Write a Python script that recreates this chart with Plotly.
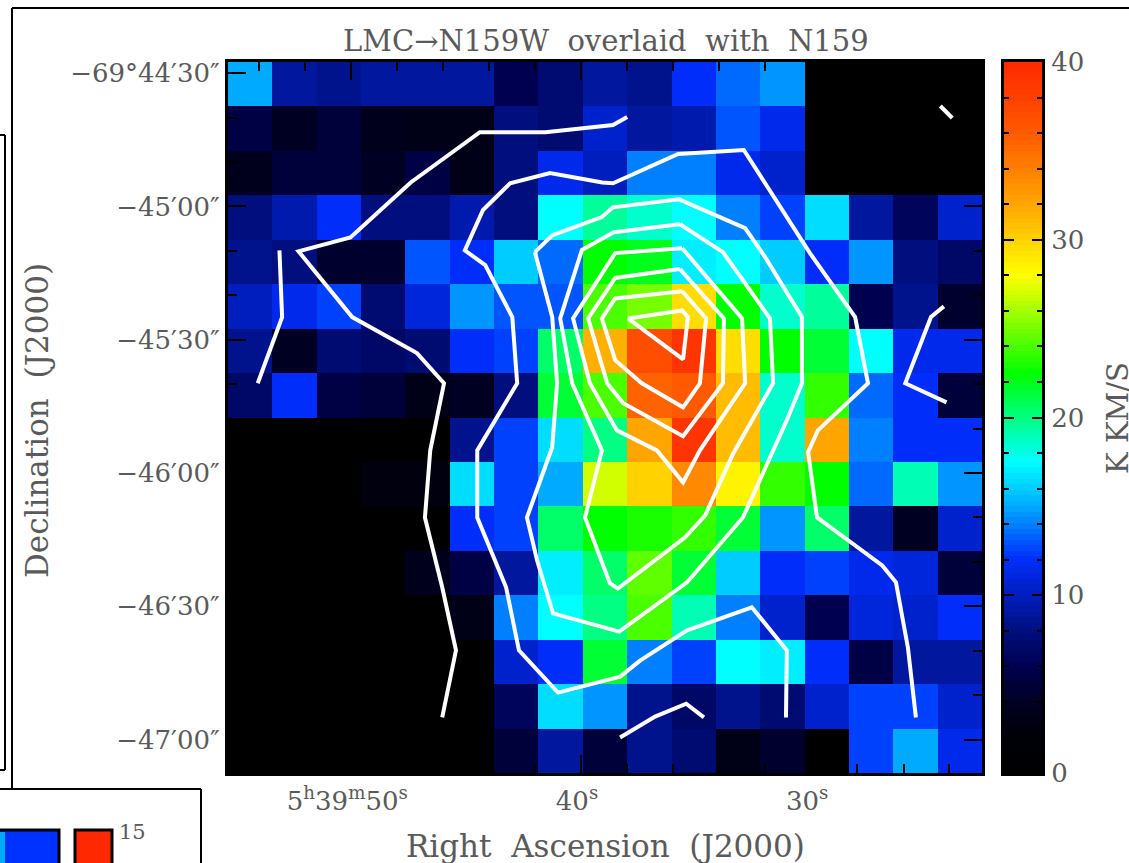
import plotly.graph_objects as go

# Integrated intensity map (K km/s), row 0 at the top, 17 columns x 16 rows
row00 = [15, 9, 8.5, 9, 9, 9, 6, 7.5, 9, 8.5, 12, 13.5, 14.5, 0, 0, 0, 0]
row01 = [5.5, 4, 5, 3.5, 3, 3, 8, 7.5, 10.5, 9, 9.5, 13, 11.5, 0, 0, 0, 0]
row02 = [3.5, 5, 5, 4, 5.5, 3, 8, 11.5, 10, 14, 14, 11.5, 10.5, 0, 0, 0, 0]
row03 = [8, 9.5, 12, 8, 8, 9.5, 8, 17.5, 19.5, 18.5, 17.5, 14, 12.5, 16.5, 9, 6.5, 10.5]
row04 = [8.5, 8, 4.5, 4.5, 13, 12, 16, 13.5, 22.5, 22, 17, 17.5, 16, 12, 14.5, 8, 7]
row05 = [10, 11.5, 12.5, 7.5, 11, 14.5, 13, 13, 24, 25, 29.5, 22.5, 18.5, 19.5, 6, 8.5, 4.5]
row06 = [8.5, 4, 7.5, 7, 7.5, 12, 12.5, 20.5, 31.5, 37, 39, 29.5, 22.5, 21.5, 17.5, 11.5, 11.5]
row07 = [7, 12, 5.5, 5, 3, 4, 8, 21.5, 24, 35.5, 36, 31, 18.5, 23.5, 13.5, 12, 5]
row08 = [0, 0, 0, 0, 0, 8.5, 12.5, 16.5, 20, 32, 39, 31, 18.5, 32, 14, 12, 12]
row09 = [0, 0, 0, 2.5, 2.5, 16.5, 12.5, 15, 27, 30, 33.5, 28.5, 23.5, 22.5, 13.5, 19, 14.5]
row10 = [0, 0, 0, 0, 0, 12, 12.5, 20.5, 22.5, 23, 23.5, 21.5, 14.5, 20.5, 9, 4, 10.5]
row11 = [0, 0, 0, 0, 3.5, 5.5, 9, 17, 20.5, 24.5, 21.5, 16, 12, 12.5, 11.5, 11, 5]
row12 = [0, 0, 0, 0, 0, 3, 14, 17.5, 20, 24, 19, 14, 10.5, 6, 11, 10.5, 12]
row13 = [0, 0, 0, 0, 0, 0, 10.5, 12, 21.5, 14, 12.5, 17.5, 17, 12, 5.5, 9, 9]
row14 = [0, 0, 0, 0, 0, 0, 6.5, 16.5, 14.5, 8.5, 7, 8.5, 7.5, 10.5, 12.5, 12.5, 10.5]
row15 = [0, 0, 0, 0, 0, 0, 5, 9, 5, 8.5, 7.5, 3, 4.5, 0, 12.5, 15, 11.5]
intensity = [row00, row01, row02, row03, row04, row05, row06, row07,
             row08, row09, row10, row11, row12, row13, row14, row15]
column_centres = [i + 0.5 for i in range(17)]
row_centres = [i + 0.5 for i in range(16)]

# N159 contours, as (map column, map row) in cell units
c01 = [(1.16, 4.24), (1.22, 5.74), (0.67, 7.23)]
c02 = [(9.0, 1.24), (8.68, 1.42), (7.16, 1.58), (5.68, 1.58), (4.12, 2.71), (2.76, 3.95),
       (1.59, 4.26), (2.80, 5.74), (4.26, 6.55), (4.87, 7.23), (4.56, 8.74), (4.44, 10.25),
       (4.83, 11.82), (5.14, 13.24), (4.83, 14.75)]
c03 = [(12.58, 14.75), (12.60, 13.24), (11.81, 12.27), (10.35, 12.79), (9.29, 13.47), (8.84, 13.83),
       (7.44, 14.19), (6.56, 13.24), (6.27, 11.82), (5.62, 10.25), (5.62, 8.74), (6.52, 7.23),
       (6.41, 5.74), (5.80, 4.57), (5.34, 4.24), (5.75, 3.33), (6.36, 2.73), (7.26, 2.50),
       (8.44, 2.71), (8.68, 2.73), (10.15, 2.07), (11.63, 1.98), (13.12, 4.30), (14.14, 5.74),
       (14.43, 7.23), (13.30, 8.29), (13.08, 8.78), (13.28, 10.25), (14.75, 11.33), (15.06, 11.71),
       (15.33, 13.18), (15.51, 14.75)]
c04 = [(6.92, 4.28), (7.31, 3.90), (8.43, 3.49), (8.68, 3.27), (10.17, 3.09), (11.66, 3.74),
       (12.11, 4.39), (12.94, 5.74), (12.94, 7.23), (12.60, 8.06), (11.61, 10.25), (10.35, 11.71),
       (8.82, 12.82), (7.33, 12.41), (6.97, 11.22), (6.74, 10.25), (7.31, 8.67), (7.42, 7.23),
       (7.31, 5.74), (6.92, 4.28)]
c05 = [(10.19, 3.65), (8.70, 3.83), (7.98, 4.23), (7.49, 5.77), (7.76, 7.23), (8.43, 8.74),
       (8.05, 10.25), (8.61, 11.73), (8.79, 11.85), (10.30, 10.70), (10.76, 10.20), (11.39, 8.81),
       (12.29, 7.23), (12.22, 5.77), (11.16, 4.28), (10.19, 3.65)]
c06 = [(10.24, 4.19), (8.73, 4.30), (7.78, 5.77), (8.16, 7.23), (8.77, 8.29), (9.67, 8.74),
       (10.26, 9.46), (10.64, 8.74), (11.66, 7.23), (11.59, 5.77), (10.24, 4.19)]
c07 = [(10.19, 4.66), (8.73, 4.86), (8.12, 5.77), (8.55, 7.23), (8.91, 7.68), (10.26, 8.42),
       (11.16, 7.23), (11.18, 5.77), (10.19, 4.66)]
c08 = [(10.24, 5.16), (8.73, 5.32), (8.43, 5.77), (8.73, 6.71), (9.33, 7.23), (10.26, 7.77),
       (10.64, 7.23), (10.78, 5.77), (10.24, 5.16)]
c09 = [(9.02, 5.77), (10.24, 5.59), (10.37, 5.74), (10.26, 6.69), (9.02, 5.77)]
c10 = [(16.14, 5.50), (15.85, 5.74), (15.27, 7.23), (16.20, 7.66)]
c11 = [(16.06, 0.99), (16.33, 1.26)]
c12 = [(8.84, 15.20), (9.63, 14.73), (10.33, 14.44), (10.73, 14.75)]
contours = [c01, c02, c03, c04, c05, c06, c07, c08, c09, c10, c11, c12]

title_text = "LMC\u2192N159W\u00a0 overlaid\u00a0 with\u00a0 N159"
x_title = "Right\u00a0 Ascension\u00a0 (J2000)"
y_title = "Declination\u00a0 (J2000)"
cbar_title = "K KM/S"
ra_major = [2.78, 7.96, 13.15]
ra_major_labels = ["5<sup>h</sup>39<sup>m</sup>50<sup>s</sup>", "40<sup>s</sup>", "30<sup>s</sup>"]
ra_minor = [0.70, 1.74, 3.82, 4.85, 5.89, 6.93, 9.00, 10.04, 11.07, 12.11, 14.19, 15.23, 16.26]
dec_major = [0.25, 3.25, 6.25, 9.25, 12.25, 15.25]
dec_major_labels = ["\u221269\u00b044\u203230\u2033", "\u221245\u203200\u2033", "\u221245\u203230\u2033",
                    "\u221246\u203200\u2033", "\u221246\u203230\u2033", "\u221247\u203200\u2033"]
dec_minor = [1.25, 2.25, 4.25, 5.25, 7.25, 8.25, 10.25, 11.25, 13.25, 14.25]
cbar_major = [0, 10, 20, 30, 40]
cbar_minor = [2, 4, 6, 8, 12, 14, 16, 18, 22, 24, 26, 28, 32, 34, 36, 38]
cbar_levels = [0.15625 + 0.3125 * i for i in range(128)]

colorstops = [(0, "rgb(0,0,0)"), (2, "rgb(0,0,8)"), (4, "rgb(0,0,35)"), (6, "rgb(0,0,80)"),
              (8, "rgb(0,15,125)"), (10, "rgb(0,30,190)"), (12, "rgb(0,45,250)"), (13, "rgb(0,85,255)"),
              (15, "rgb(0,170,255)"), (17.5, "rgb(0,255,255)"), (20, "rgb(0,255,130)"), (22.5, "rgb(0,255,0)"),
              (23.5, "rgb(50,255,0)"), (28, "rgb(255,255,0)"), (32, "rgb(255,165,0)"), (36, "rgb(255,90,0)"),
              (40, "rgb(255,40,0)")]
scale = [[v / 40, c] for v, c in colorstops]

W, H = 1129, 863
L, R, T, B = 228, 982, 62, 773
CL, CR = 1004, 1042
INK = "#5a5a5a"
TICK = "#000000"
FONT = "DejaVu Serif"

fig = go.Figure()
fig.add_trace(go.Heatmap(x=column_centres, y=row_centres, z=intensity, zmin=0, zmax=40, zsmooth=False,
                         colorscale=scale, showscale=False, hoverinfo="skip"))
for c in contours:
    fig.add_trace(go.Scatter(x=[p[0] for p in c], y=[p[1] for p in c], mode="lines",
                             line=dict(color="white", width=4), showlegend=False, hoverinfo="skip"))
fig.add_trace(go.Heatmap(x=[0], y=cbar_levels, z=[[v] for v in cbar_levels], zmin=0, zmax=40, zsmooth=False,
                         colorscale=scale, showscale=False, hoverinfo="skip", xaxis="x2", yaxis="y2"))

tickfont = dict(family=FONT, size=26, color=INK)
axis_common = dict(showgrid=False, zeroline=False, showline=True, linecolor="#000", linewidth=3, automargin=False,
                   mirror="ticks", ticks="inside", tickwidth=1.5, tickcolor=TICK, tickfont=tickfont)
minor = dict(ticks="inside", ticklen=9, tickwidth=1.5, tickcolor=TICK, tickmode="array")

layout_axes = dict(
    xaxis=dict(range=[0, 17], domain=[L / W, R / W], tickmode="array", tickvals=ra_major, ticktext=ra_major_labels,
               ticklen=18, ticklabelshift=-4, ticklabelstandoff=3, minor=dict(tickvals=ra_minor, **minor), **axis_common),
    yaxis=dict(range=[16, 0], domain=[1 - B / H, 1 - T / H], tickmode="array", tickvals=dec_major, ticktext=dec_major_labels,
               ticklen=18, minor=dict(tickvals=dec_minor, **minor), **axis_common),
    xaxis2=dict(range=[-0.5, 0.5], domain=[CL / W, CR / W], anchor="y2", showticklabels=False, automargin=False,
                showline=True, linecolor="#000", linewidth=3, mirror=True, ticks="", showgrid=False, zeroline=False),
    yaxis2=dict(range=[0, 40], domain=[1 - B / H, 1 - T / H], anchor="x2", side="right", tickmode="array",
                tickvals=cbar_major, ticklen=10, ticklabelstandoff=1,
                minor=dict(tickvals=cbar_minor, ticks="inside", ticklen=5, tickwidth=1.5, tickcolor=TICK, tickmode="array"),
                **axis_common),
)

def px(x): return x / W
def py(y): return 1 - y / H

shapes = []
def frame(x0, y0, x1, y1):
    shapes.append(dict(type="line", xref="paper", yref="paper", x0=px(x0), y0=py(y0), x1=px(x1), y1=py(y1),
                       line=dict(color="#000", width=2)))
# surrounding page panels
frame(12, 8, 1129, 8); frame(12, 8, 12, 788)
frame(0, 135, 5, 135); frame(5, 135, 5, 770); frame(0, 770, 5, 770)
frame(0, 789, 201, 789); frame(201, 789, 201, 863)
# pieces of the neighbouring colour bars
for x0, x1, col in [(-4, 59, "rgb(0,50,255)"), (75, 112, "rgb(255,40,0)")]:
    shapes.append(dict(type="rect", xref="paper", yref="paper", x0=px(x0), x1=px(x1), y0=py(868), y1=py(830),
                       fillcolor=col, line=dict(color="#000", width=3)))
shapes.append(dict(type="rect", xref="paper", yref="paper", x0=px(-4), x1=px(5), y0=py(868), y1=py(832),
                   fillcolor="rgb(0,170,255)", line=dict(width=0)))

ann = [
    dict(text=title_text, x=px(606), y=py(41), size=29),
    dict(text=x_title, x=px(605), y=py(846), size=31),
    dict(text=y_title, x=px(37), y=py(421), size=31, textangle=-90),
    dict(text=cbar_title, x=px(1118), y=py(418), size=29, textangle=-90),
    dict(text="15", x=px(132), y=py(832), size=21),
]
annotations = [dict(xref="paper", yref="paper", x=a["x"], y=a["y"], text=a["text"], showarrow=False,
                    xanchor="center", yanchor="middle", textangle=a.get("textangle", 0),
                    font=dict(family=FONT, size=a["size"], color=INK)) for a in ann]

fig.update_layout(width=W, height=H, margin=dict(l=0, r=0, t=0, b=0), paper_bgcolor="white",
                  plot_bgcolor="black", showlegend=False, shapes=shapes, annotations=annotations, **layout_axes)
fig.write_html("out.html", config=dict(displayModeBar=False),
               post_script="document.body.style.margin='0';document.body.style.overflow='hidden';")
